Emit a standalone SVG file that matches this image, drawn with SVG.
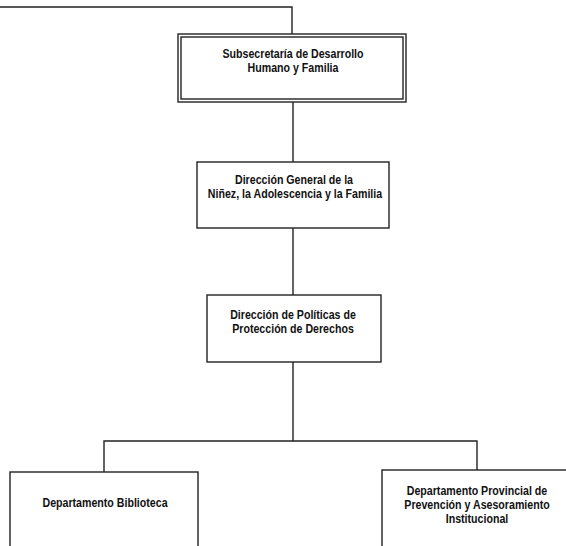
<svg xmlns="http://www.w3.org/2000/svg" width="566" height="546" viewBox="0 0 566 546">
<style>
.box{fill:#fff;stroke:#222;stroke-width:1.4}
.ln{fill:none;stroke:#222;stroke-width:1.4}
.t{font-family:"Liberation Sans",Arial,sans-serif;font-weight:bold;font-size:12.5px;fill:#111;text-anchor:middle}
</style>
<rect width="566" height="546" fill="#fff"/>
<g id="connectors">
<polyline class="ln" points="0,7 292,7 292,34"/>
<line class="ln" x1="293" y1="102" x2="293" y2="162"/>
<line class="ln" x1="293" y1="228" x2="293" y2="295"/>
<line class="ln" x1="293" y1="362" x2="293" y2="441"/>
<polyline class="ln" points="104,472 104,441 477,441 477,470"/>
</g>
<g id="n1">
<rect class="box" x="178" y="34" width="228" height="68"/>
<rect class="box" x="181" y="37" width="222" height="62"/>
<text class="t" transform="translate(293,58) scale(0.85,1)">Subsecretaría de Desarrollo</text>
<text class="t" transform="translate(293,72) scale(0.85,1)">Humano y Familia</text>
</g>
<g id="n2">
<rect class="box" x="197" y="162" width="192" height="66"/>
<text class="t" transform="translate(294,184) scale(0.85,1)">Dirección General de la</text>
<text class="t" transform="translate(295,198) scale(0.85,1)">Niñez, la Adolescencia y la Familia</text>
</g>
<g id="n3">
<rect class="box" x="207" y="295" width="174" height="67"/>
<text class="t" transform="translate(293,319) scale(0.85,1)">Dirección de Políticas de</text>
<text class="t" transform="translate(293,333) scale(0.85,1)">Protección de Derechos</text>
</g>
<g id="n4">
<rect class="box" x="10" y="472" width="188" height="90"/>
<text class="t" transform="translate(105,507) scale(0.85,1)">Departamento Biblioteca</text>
</g>
<g id="n5">
<rect class="box" x="382" y="470" width="200" height="90"/>
<text class="t" transform="translate(477,495) scale(0.85,1)">Departamento Provincial de</text>
<text class="t" transform="translate(477,509) scale(0.85,1)">Prevención y Asesoramiento</text>
<text class="t" transform="translate(477,523) scale(0.85,1)">Institucional</text>
</g>
</svg>
